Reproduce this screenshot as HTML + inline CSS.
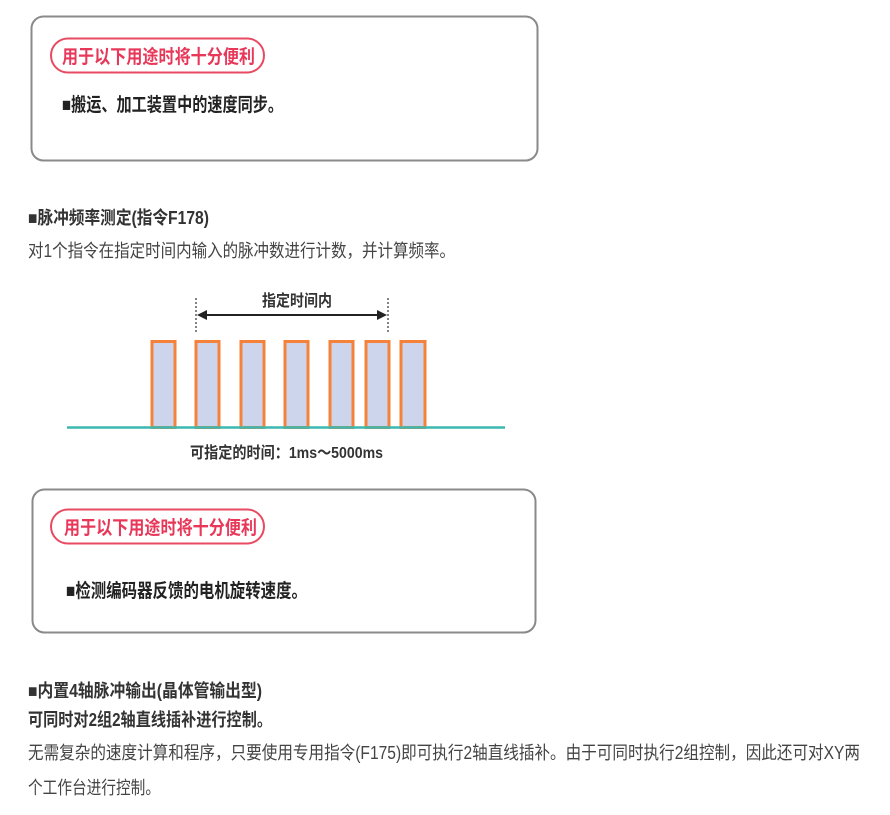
<!DOCTYPE html>
<html><head><meta charset="utf-8"><style>html,body{margin:0;padding:0;background:#fff;}svg{display:block}</style></head>
<body>
<svg width="890" height="815" viewBox="0 0 890 815" xmlns="http://www.w3.org/2000/svg" font-family="'Liberation Sans','Noto Sans CJK SC',sans-serif">
<rect x="31.5" y="16.5" width="506" height="144" rx="12" fill="#fff" stroke="#8a8a8a" stroke-width="2"/>
<rect x="51" y="38.5" width="213" height="34" rx="17" fill="#fff" stroke="#e84a62" stroke-width="2"/>
<text x="62" y="63" font-size="19" font-weight="bold" fill="#e8385a" textLength="193" lengthAdjust="spacingAndGlyphs">用于以下用途时将十分便利</text>
<text x="62" y="111" font-size="19" font-weight="bold" fill="#222" textLength="221" lengthAdjust="spacingAndGlyphs">■搬运、加工装置中的速度同步。</text>

<text x="28" y="224" font-size="18" font-weight="bold" fill="#333" textLength="181" lengthAdjust="spacingAndGlyphs">■脉冲频率测定(指令F178)</text>
<text x="28" y="257" font-size="18" fill="#444" textLength="427" lengthAdjust="spacingAndGlyphs">对1个指令在指定时间内输入的脉冲数进行计数，并计算频率。</text>

<text x="262" y="306" font-size="16" font-weight="bold" fill="#333" textLength="70" lengthAdjust="spacingAndGlyphs">指定时间内</text>
<line x1="196" y1="298" x2="196" y2="334" stroke="#333" stroke-width="1.2" stroke-dasharray="2,2"/>
<line x1="388" y1="298" x2="388" y2="334" stroke="#333" stroke-width="1.2" stroke-dasharray="2,2"/>
<line x1="204" y1="315" x2="380" y2="315" stroke="#222" stroke-width="2"/>
<polygon points="197,315 207,310 207,320" fill="#222"/>
<polygon points="387,315 377,310 377,320" fill="#222"/>
<g fill="#ccd5ec" stroke="#f5823a" stroke-width="3">
<rect x="152" y="341.5" width="23" height="86"/>
<rect x="196" y="341.5" width="23" height="86"/>
<rect x="241" y="341.5" width="23" height="86"/>
<rect x="285" y="341.5" width="23" height="86"/>
<rect x="330" y="341.5" width="23" height="86"/>
<rect x="366" y="341.5" width="23" height="86"/>
<rect x="401" y="341.5" width="24" height="86"/>
</g>
<line x1="67" y1="427.5" x2="505" y2="427.5" stroke="#3cb8b0" stroke-width="2.5"/>
<text x="190" y="458" font-size="16" font-weight="bold" fill="#333" textLength="193" lengthAdjust="spacingAndGlyphs">可指定的时间：1ms～5000ms</text>

<rect x="32.5" y="489.5" width="503" height="143" rx="12" fill="#fff" stroke="#8a8a8a" stroke-width="2"/>
<rect x="51" y="509.5" width="213" height="34" rx="17" fill="#fff" stroke="#e84a62" stroke-width="2"/>
<text x="64" y="534" font-size="19" font-weight="bold" fill="#e8385a" textLength="193" lengthAdjust="spacingAndGlyphs">用于以下用途时将十分便利</text>
<text x="66" y="597" font-size="19" font-weight="bold" fill="#222" textLength="241" lengthAdjust="spacingAndGlyphs">■检测编码器反馈的电机旋转速度。</text>

<text x="28" y="697" font-size="18" font-weight="bold" fill="#333" textLength="234" lengthAdjust="spacingAndGlyphs">■内置4轴脉冲输出(晶体管输出型)</text>
<text x="28" y="726" font-size="18" font-weight="bold" fill="#333" textLength="244" lengthAdjust="spacingAndGlyphs">可同时对2组2轴直线插补进行控制。</text>
<text x="28" y="759" font-size="18" fill="#444" textLength="832" lengthAdjust="spacingAndGlyphs">无需复杂的速度计算和程序，只要使用专用指令(F175)即可执行2轴直线插补。由于可同时执行2组控制，因此还可对XY两</text>
<text x="28" y="794" font-size="18" fill="#444" textLength="132" lengthAdjust="spacingAndGlyphs">个工作台进行控制。</text>
</svg>
</body></html>
